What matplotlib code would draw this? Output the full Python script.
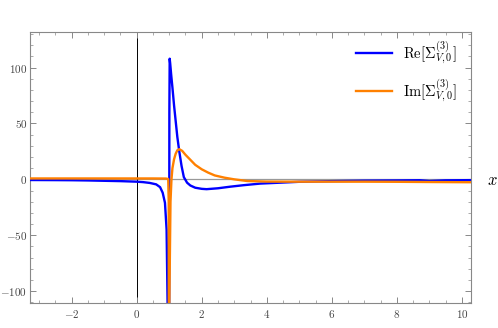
import numpy as np
import matplotlib
matplotlib.use("Agg")
import matplotlib.pyplot as plt
from matplotlib.ticker import MultipleLocator

plt.rcParams['font.family'] = 'serif'
plt.rcParams['font.serif'] = ['cmr10']
plt.rcParams['mathtext.fontset'] = 'cm'
plt.rcParams['axes.formatter.use_mathtext'] = True

# Re part (blue)
re_x = [-3.3, -2.5, -2.0, -1.5, -1.0, -0.5, 0.0, 0.2, 0.4, 0.6, 0.72, 0.8, 0.87, 0.92, 0.95,
        0.965, 0.995, 1.005, 1.015, 1.03, 1.06, 1.1, 1.15, 1.2, 1.25, 1.31, 1.38, 1.45,
        1.55, 1.65, 1.8, 2.0, 2.15, 2.5, 2.87, 3.3, 3.8, 4.4, 5.0, 6.0, 7.0, 8.0, 8.7, 9.0,
        9.5, 10.3]
re_y = [-0.6, -0.7, -0.8, -1.0, -1.3, -1.6, -2.1, -2.5, -3.2, -4.5, -7.0, -12.0, -21.0, -45.0, -110.0,
        -300.0, -300.0, 60.0, 108.0, 104.0, 94.0, 82.0, 66.0, 52.0, 38.0, 25.0, 12.0, 2.0,
        -3.0, -5.5, -7.5, -8.5, -8.8, -8.0, -6.6, -5.2, -3.8, -3.0, -2.2, -1.6, -1.2, -1.0, -0.8, -1.5,
        -0.9, -0.7]

# Im part (orange)
im_x = [-3.3, -2.0, -1.0, 0.0, 0.5, 0.9, 0.97, 0.985, 0.995, 1.005, 1.04, 1.07, 1.1, 1.15,
        1.2, 1.25, 1.31, 1.4, 1.5, 1.6, 1.8, 2.0, 2.2, 2.4, 2.7, 3.0, 3.4, 4.0, 5.0, 6.0,
        7.0, 8.0, 9.0, 10.3]
im_y = [0.8, 0.8, 0.8, 0.8, 0.8, 0.7, 0.3, -20.0, -300.0, -110.0, -20.0, 0.0, 10.0, 18.0,
        23.0, 26.0, 27.0, 25.5, 22.0, 19.0, 13.0, 9.0, 6.0, 3.5, 1.5, 0.0, -1.5, -2.0, -2.1, -2.1,
        -2.1, -2.2, -2.4, -2.6]

fig = plt.figure(figsize=(4.98, 3.28), dpi=100)
ax = fig.add_axes([30 / 498, 1 - 303 / 328, 441 / 498, 271 / 328])

ax.axhline(0, color='#999999', lw=0.9, zorder=1)
ax.axvline(0, color='black', lw=0.7, zorder=1)

ax.plot(re_x, re_y, color='#0000ff', lw=1.7, label=r'$\mathrm{Re}[\Sigma^{(3)}_{V,0}]$', zorder=3)
ax.plot(im_x, im_y, color='#ff8000', lw=1.7, label=r'$\mathrm{Im}[\Sigma^{(3)}_{V,0}]$', zorder=3)

ax.set_xlim(-3.28, 10.28)
ax.set_ylim(-110.7, 131.9)

ax.xaxis.set_major_locator(MultipleLocator(2))
ax.xaxis.set_minor_locator(MultipleLocator(0.5))
ax.yaxis.set_major_locator(MultipleLocator(50))
ax.yaxis.set_minor_locator(MultipleLocator(10))
ax.tick_params(which='both', direction='in', top=True, right=True, color='#888888',
               labelcolor='#444444', labelsize=8)
ax.tick_params(which='major', length=4, width=0.7)
ax.tick_params(axis='y', pad=2)
ax.tick_params(which='minor', length=2, width=0.5)
for s in ax.spines.values():
    s.set_color('#888888')
    s.set_linewidth(0.8)

leg = ax.legend(loc='upper left', bbox_to_anchor=(326 / 441, (303 - 40) / 271), frameon=False,
                fontsize=10.5, handlelength=2.5, labelspacing=0.75, handletextpad=0.7,
                borderpad=0, borderaxespad=0)

fig.text(492 / 498, 1 - 180 / 328, r'$x$', fontsize=12, ha='center', va='center')

fig.savefig('out.png', dpi=100)
